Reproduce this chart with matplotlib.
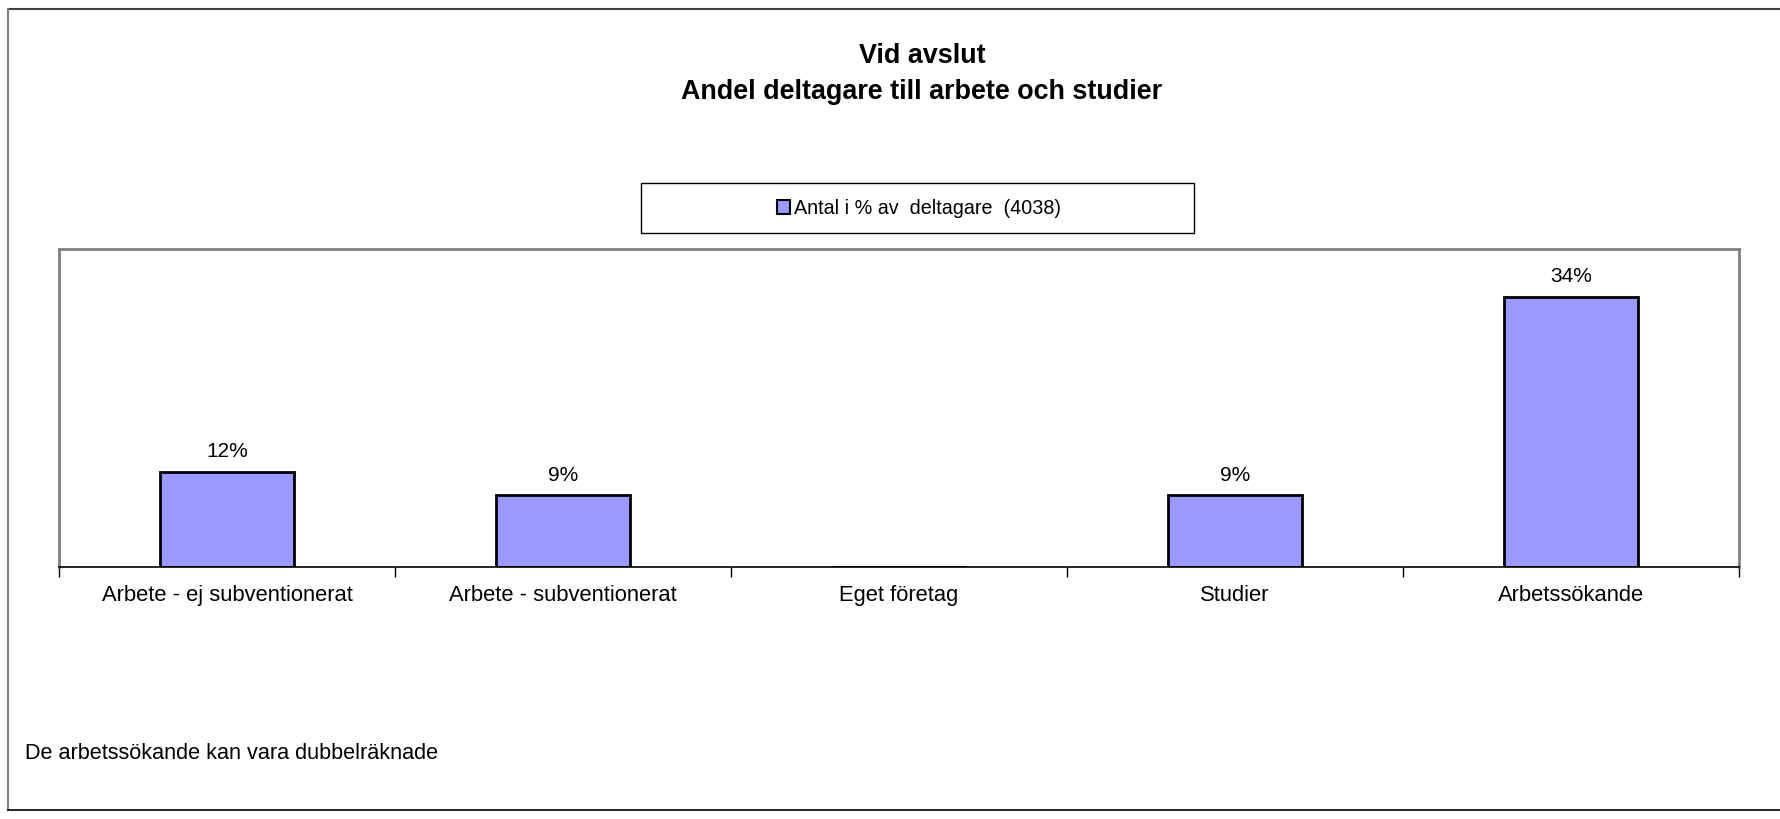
import matplotlib
matplotlib.use("Agg")
import matplotlib.pyplot as plt
from matplotlib.patches import Rectangle
from matplotlib.lines import Line2D

plt.rcParams['font.family'] = ['Liberation Sans', 'DejaVu Sans']

kategorier = ["Arbete - ej subventionerat", "Arbete - subventionerat", "Eget företag", "Studier", "Arbetssökande"]
andelar = [12, 9, 0, 9, 34]
etiketter = ["12%", "9%", "", "9%", "34%"]
serienamn = "Antal i % av  deltagare  (4038)"
titel = "Vid avslut\nAndel deltagare till arbete och studier"
fotnot = "De arbetssökande kan vara dubbelräknade"

W, H = 1781, 820
fig = plt.figure(figsize=(W / 100, H / 100), dpi=100)

# ram runt hela diagrammet (topp, vänster, botten)
fig.add_artist(Line2D([8 / W, 1], [1 - 10 / H, 1 - 10 / H], color="#404040", lw=1.5))
fig.add_artist(Line2D([8 / W, 8 / W], [1 - 10 / H, 1 - 811 / H], color="#808080", lw=1.5))
fig.add_artist(Line2D([8 / W, 1], [1 - 811 / H, 1 - 811 / H], color="black", lw=1.2))

ax = fig.add_axes([59 / W, 1 - 568 / H, 1680 / W, 318 / H])
x = list(range(len(kategorier)))
staplar = ax.bar(x, andelar, width=0.40, color="#9999FF", edgecolor="black", linewidth=2,
                 label=serienamn)
ax.bar_label(staplar, labels=etiketter, padding=8.5, fontsize=15)

ax.set_xlim(-0.5, len(kategorier) - 0.5)
ax.set_ylim(0, 40)
ax.set_yticks([])
ax.set_xticks(x)
ax.set_xticklabels(kategorier, fontsize=15.8)
ax.tick_params(axis="x", which="major", length=0, pad=12)
ax.set_xticks([i - 0.5 for i in range(len(kategorier) + 1)], minor=True)
ax.tick_params(axis="x", which="minor", length=7, width=1, color="black")
for s in ["left", "top", "right"]:
    ax.spines[s].set_color("#808080")
    ax.spines[s].set_linewidth(2)
ax.spines["bottom"].set_color("black")
ax.spines["bottom"].set_linewidth(1.2)

fig.text(922 / W, 1 - 74 / H, titel, ha="center", va="center", fontsize=19.4,
         fontweight="bold", linespacing=1.5)

# legend med egen ram
fig.add_artist(Rectangle((641 / W, 1 - 234 / H), 553 / W, 50 / H, transform=fig.transFigure,
                         facecolor="white", edgecolor="black", lw=1))
leg = fig.legend(handles=[staplar], labels=[serienamn], loc="center",
                 bbox_to_anchor=(919 / W, 1 - 209 / H), frameon=False, fontsize=14.2,
                 handlelength=0.7, handleheight=0.7, handletextpad=0.2)
for h in leg.legend_handles:
    h.set_linewidth(1.5)

fig.text(25 / W, 1 - 754 / H, fotnot, ha="left", va="center", fontsize=15.6)

fig.savefig("out.png", dpi=100, facecolor="white")
